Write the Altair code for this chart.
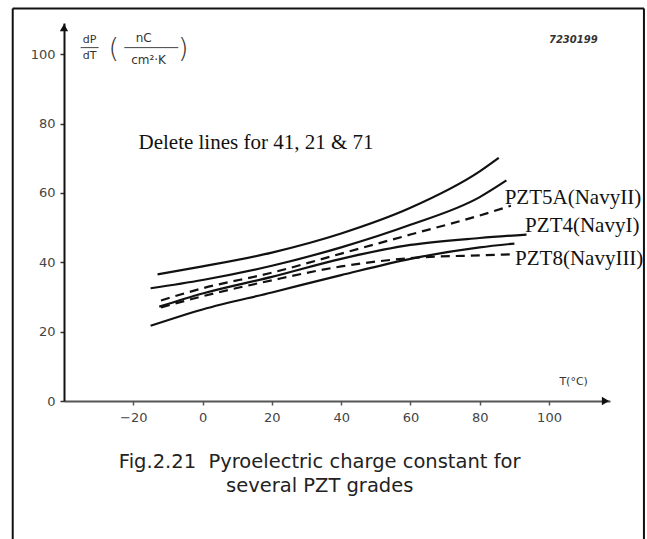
import altair as alt
import pandas as pd

# Temperature (°C) and dP/dT (nC/cm²K)
solid_a_t = [-13, 0, 20, 40, 60, 80, 85.5]
solid_a_v = [36.5, 38.8, 42.8, 48.3, 55.7, 66.2, 70.1]
solid_b_t = [-15, 0, 20, 40, 60, 80, 87.7]
solid_b_v = [32.5, 34.9, 39.0, 44.3, 50.8, 58.8, 63.6]
dash_a_t = [-12, 0, 20, 40, 60, 80, 89]
dash_a_v = [29.0, 32.5, 37.0, 42.5, 48.0, 53.5, 56.3]
solid_c_t = [-12.5, 0, 20, 40, 60, 80, 93.5]
solid_c_v = [27.2, 31.0, 35.8, 41.0, 45.0, 47.0, 48.0]
dash_b_t = [-12, 0, 20, 40, 60, 80, 90]
dash_b_v = [27.0, 30.2, 34.8, 38.8, 41.2, 42.0, 42.3]
solid_d_t = [-15, 0, 20, 40, 60, 80, 90]
solid_d_v = [21.7, 26.4, 31.3, 36.3, 41.0, 44.3, 45.4]

grade_labels = ["PZT5A(NavyII)", "PZT4(NavyI)", "PZT8(NavyIII)"]
grade_label_t = [87.2, 93.1, 90.2]
grade_label_v = [58.6, 50.6, 40.9]

x_ticks = [-20, 0, 20, 40, 60, 80, 100]
y_ticks = [0, 20, 40, 60, 80, 100]
x_domain = [-40, 117.6]
y_domain = [0, 109]

note_text = "Delete lines for 41, 21 & 71"
caption_lines = ["Fig.2.21\u00a0 Pyroelectric charge constant for", "several PZT grades"]


def curve_frame(name, ts, vs):
    return pd.DataFrame({"curve": name, "T": ts, "V": vs, "order": range(len(ts))})


solid = pd.concat([
    curve_frame("a", solid_a_t, solid_a_v),
    curve_frame("b", solid_b_t, solid_b_v),
    curve_frame("c", solid_c_t, solid_c_v),
    curve_frame("d", solid_d_t, solid_d_v),
])
dashed = pd.concat([
    curve_frame("A", dash_a_t, dash_a_v),
    curve_frame("B", dash_b_t, dash_b_v),
])

x_scale = alt.Scale(domain=x_domain, nice=False, zero=False)
y_scale = alt.Scale(domain=y_domain, nice=False, zero=False)
X = lambda f="T": alt.X(f"{f}:Q", scale=x_scale,
                        axis=alt.Axis(values=x_ticks, title=None, grid=False,
                                      domainColor="#555", domainWidth=2,
                                      tickColor="#555", tickSize=4, tickWidth=1.5,
                                      labelPadding=6, labelFontSize=13,
                                      labelColor="#444", labelFont="DejaVu Sans",
                                      labelFlush=False))
Y = lambda f="V": alt.Y(f"{f}:Q", scale=y_scale,
                        axis=alt.Axis(values=y_ticks, title=None, grid=False,
                                      domainColor="#111", domainWidth=2,
                                      tickColor="#333", tickSize=4, tickWidth=1.5,
                                      labelPadding=5, labelFontSize=13,
                                      labelColor="#444", labelFont="DejaVu Sans",
                                      labelFlush=False))

solid_lines = alt.Chart(solid).mark_line(
    color="#111", strokeWidth=2.2, interpolate="monotone"
).encode(x=X(), y=Y(), detail="curve:N", order="order:Q")

dashed_lines = alt.Chart(dashed).mark_line(
    color="#111", strokeWidth=2.2, strokeDash=[9, 6], interpolate="monotone"
).encode(x=X(), y=Y(), detail="curve:N", order="order:Q")

grade_text = alt.Chart(pd.DataFrame({
    "label": grade_labels, "T": grade_label_t, "V": grade_label_v
})).mark_text(
    align="left", baseline="middle", font="Liberation Serif", fontSize=21, color="#111"
).encode(x=X(), y=Y(), text="label:N")

note = alt.Chart(pd.DataFrame({"T": [-18.5], "V": [74.5], "s": [note_text]})).mark_text(
    align="left", baseline="middle", font="Liberation Serif", fontSize=21, color="#111"
).encode(x=X(), y=Y(), text="s:N")

# arrow heads on both axes
arrows = alt.Chart(pd.DataFrame({
    "T": [116.3, -40], "V": [0, 107.7], "shape": ["triangle-right", "triangle-up"]
})).mark_point(filled=True, size=70, opacity=1, color="#111").encode(
    x=X(), y=Y(), shape=alt.Shape("shape:N", scale=None)
)

# axis quantity and units
small_text = pd.DataFrame({
    "T": [-32.6, -32.6, -17.0, -15.6, 107.1],
    "V": [104.0, 99.6, 104.6, 98.4, 5.4],
    "s": ["dP", "dT", "nC", "cm²·K", "T(°C)"],
    "size": [11, 11, 12, 12, 11],
})
unit_text = alt.Chart(small_text).mark_text(
    font="DejaVu Sans", color="#333", baseline="middle"
).encode(x=X(), y=Y(), text="s:N", size=alt.Size("size:Q", scale=None))

paren = alt.Chart(pd.DataFrame({"T": [-25.6, -5.6], "V": [101.6, 101.6], "s": ["(", ")"]})).mark_text(
    font="DejaVu Sans", fontSize=27, color="#333", baseline="middle", fontWeight=200
).encode(x=X(), y=Y(), text="s:N")

frac_bars = alt.Chart(pd.DataFrame({
    "T": [-35.2, -22.6], "T2": [-30.0, -7.0], "V": [101.9, 101.9]
})).mark_rule(color="#444", strokeWidth=1).encode(x=X(), x2="T2:Q", y=Y())

code = alt.Chart(pd.DataFrame({"T": [107.0], "V": [104.2], "s": ["7230199"]})).mark_text(
    font="DejaVu Sans", fontSize=10, fontStyle="italic", fontWeight="bold", color="#333"
).encode(x=X(), y=Y(), text="s:N")

caption = alt.Chart(pd.DataFrame({
    "T": [33.8, 33.8], "V": [-19.4, -26.1], "s": caption_lines
})).mark_text(
    font="DejaVu Sans", fontSize=19.5, color="#222", baseline="alphabetic", align="center"
).encode(x=X(), y=Y(), text="s:N")

# open frame round the figure
frame = alt.Chart(pd.DataFrame({
    "T": [-54.8, -54.8, 127.4], "T2": [-54.8, 127.4, 127.4],
    "V": [-45.0, 113.2, -45.0], "V2": [113.2, 113.2, 113.2]
})).mark_rule(color="#111", strokeWidth=2).encode(x=X(), x2="T2:Q", y=Y(), y2="V2:Q")

chart = alt.layer(
    frame, solid_lines, dashed_lines, arrows, grade_text, note,
    unit_text, paren, frac_bars, code, caption
).properties(
    width=546, height=378,
    padding={"left": 64, "top": 23, "right": 37, "bottom": 138},
    autosize=alt.AutoSizeParams(type="none"),
    background="white",
).configure_view(stroke=None)

chart.save("out.html", embed_options={"renderer": "svg", "actions": False})
